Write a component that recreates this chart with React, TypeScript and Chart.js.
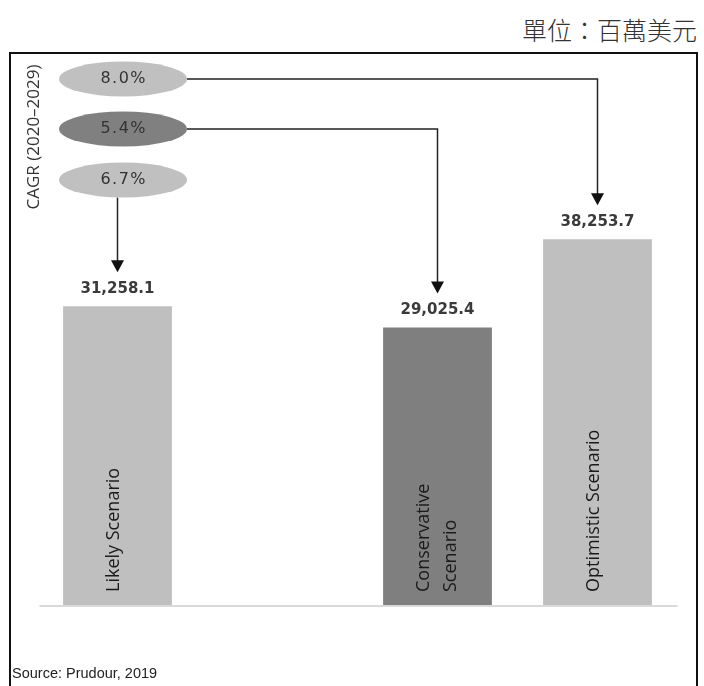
import React, { useEffect, useRef } from "react";
import { Chart, registerables } from "chart.js";

Chart.register(...registerables);

const categories = ["Likely Scenario", "", "Conservative Scenario", "Optimistic Scenario"];
const barLabelLines = [["Likely Scenario"], [], ["Conservative", "Scenario"], ["Optimistic Scenario"]];
const values: (number | null)[] = [31258.1, null, 29025.4, 38253.7];
const barColors = ["#bfbfbf", "rgba(0,0,0,0)", "#7f7f7f", "#bfbfbf"];
const cagrLabels = ["8.0%", "5.4%", "6.7%"];
const cagrTargets = [3, 2, 0];
const cagrColors = ["#c0c0c0", "#808080", "#c0c0c0"];
const titleText = "單位：百萬美元";
const cagrAxisText = "CAGR (2020–2029)";
const sourceText = "Source: Prudour, 2019";

const fmt = (v: number) =>
  v.toLocaleString("en-US", { minimumFractionDigits: 1, maximumFractionDigits: 1 });

const annotationPlugin = {
  id: "annotations",
  beforeDatasetsDraw(chart: any) {
    const ctx = chart.ctx;
    const y0 = chart.scales.y.getPixelForValue(0);
    ctx.save();
    ctx.strokeStyle = "#d9d9d9";
    ctx.lineWidth = 2;
    ctx.beginPath();
    ctx.moveTo(chart.chartArea.left + 2, y0 + 1);
    ctx.lineTo(chart.chartArea.right, y0 + 1);
    ctx.stroke();
    ctx.restore();
  },
  afterDatasetsDraw(chart: any) {
    const ctx = chart.ctx;
    const meta = chart.getDatasetMeta(0);
    const y0 = chart.scales.y.getPixelForValue(0);
    ctx.save();
    meta.data.forEach((bar: any, i: number) => {
      const v = values[i];
      if (v == null) return;
      ctx.fillStyle = "#3a3a3a";
      ctx.font = "bold 15px 'DejaVu Sans'";
      ctx.textAlign = "center";
      ctx.textBaseline = "middle";
      ctx.fillText(fmt(v), bar.x, bar.y - 17);

      const lines = barLabelLines[i];
      ctx.save();
      ctx.fillStyle = "#1a1a1a";
      ctx.font = "18px 'Open Sans'";
      ctx.textAlign = "left";
      ctx.textBaseline = "middle";
      const lh = 27;
      const n = lines.length;
      lines.forEach((ln, k) => {
        const off = n === 1 ? -4 : (k - (n - 1) / 2) * lh;
        ctx.save();
        ctx.translate(bar.x + off, y0 - 13);
        ctx.rotate(-Math.PI / 2);
        ctx.fillText(ln, 0, 0);
        ctx.restore();
      });
      ctx.restore();
    });

    ctx.save();
    ctx.fillStyle = "#333";
    ctx.font = "17px 'Open Sans'";
    ctx.textAlign = "center";
    ctx.textBaseline = "middle";
    ctx.translate(34, 137);
    ctx.rotate(-Math.PI / 2);
    ctx.fillText(cagrAxisText, 0, 0);
    ctx.restore();

    const cx = 123;
    const rx = 64;
    const ry = 17.5;
    const cys = [79, 129, 180];
    cagrLabels.forEach((lab, i) => {
      const cy = cys[i];
      const bar = meta.data[cagrTargets[i]];
      const tipY = bar.y - 34;
      ctx.strokeStyle = "#222";
      ctx.fillStyle = "#111";
      ctx.lineWidth = 1.5;
      ctx.beginPath();
      if (i < 2) {
        ctx.moveTo(cx + rx, cy);
        ctx.lineTo(bar.x, cy);
        ctx.lineTo(bar.x, tipY - 11);
      } else {
        ctx.moveTo(bar.x, cy + ry);
        ctx.lineTo(bar.x, tipY - 11);
      }
      ctx.stroke();
      ctx.beginPath();
      ctx.moveTo(bar.x - 6.5, tipY - 12);
      ctx.lineTo(bar.x + 6.5, tipY - 12);
      ctx.lineTo(bar.x, tipY);
      ctx.closePath();
      ctx.fill();

      ctx.fillStyle = cagrColors[i];
      ctx.beginPath();
      ctx.ellipse(cx, cy, rx, ry, 0, 0, Math.PI * 2);
      ctx.fill();
      ctx.fillStyle = "#333";
      ctx.font = "16px 'DejaVu Sans'";
      ctx.textAlign = "center";
      ctx.textBaseline = "middle";
      (ctx as any).letterSpacing = "1.5px";
      ctx.fillText(lab, cx + 0.75, cy);
      (ctx as any).letterSpacing = "0px";
    });
    ctx.restore();
  },
};

export default function App() {
  const ref = useRef<HTMLCanvasElement | null>(null);
  useEffect(() => {
    if (!ref.current) return;
    const chart = new Chart(ref.current, {
      type: "bar",
      data: {
        labels: categories,
        datasets: [
          {
            data: values as any,
            backgroundColor: barColors,
            borderWidth: 0,
            categoryPercentage: 1,
            barPercentage: 0.68,
          },
        ],
      },
      options: {
        animation: false,
        responsive: false,
        layout: { padding: { left: 37.5, right: 26.5, top: 60, bottom: 81 } },
        plugins: { legend: { display: false }, tooltip: { enabled: false }, title: { display: false } },
        scales: {
          x: { display: false },
          y: { display: false, min: 0, max: 57000 },
        },
      },
      plugins: [annotationPlugin],
    });
    return () => chart.destroy();
  }, []);

  return (
    <div
      style={{
        position: "fixed",
        left: 0,
        top: 0,
        width: 704,
        height: 686,
        overflow: "hidden",
        background: "#fff",
      }}
    >
      <div
        style={{
          position: "absolute",
          right: 7,
          top: 14,
          fontFamily: "'Noto Sans CJK TC', sans-serif",
          fontSize: 25,
          fontWeight: 300,
          lineHeight: "30px",
          color: "#333",
          whiteSpace: "nowrap",
        }}
      >
        {titleText}
      </div>
      <div
        style={{
          position: "absolute",
          left: 9,
          top: 52,
          width: 689,
          height: 660,
          border: "2px solid #111",
          boxSizing: "border-box",
        }}
      />
      <canvas ref={ref} width={704} height={686} style={{ position: "absolute", left: 0, top: 0 }} />
      <div
        style={{
          position: "absolute",
          left: 12,
          top: 664,
          fontFamily: "'Liberation Sans', Arial, sans-serif",
          fontSize: 14.5,
          lineHeight: "18px",
          color: "#222",
          whiteSpace: "nowrap",
        }}
      >
        {sourceText}
      </div>
    </div>
  );
}
